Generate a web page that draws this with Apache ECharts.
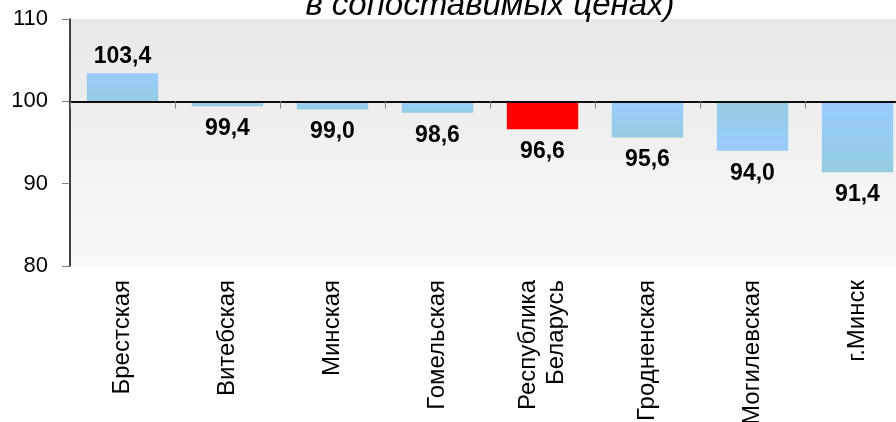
<!DOCTYPE html>
<html>
<head>
<meta charset="utf-8">
<script src="https://cdn.jsdelivr.net/npm/echarts@6/dist/echarts.min.js"></script>
<style>
  html, body { margin: 0; padding: 0; background: #fff; }
  #main { width: 896px; height: 422px; }
</style>
</head>
<body>
<div id="main"></div>
<script>
// регионы и индексы (в сопоставимых ценах)
var regions = ['Брестская', 'Витебская', 'Минская', 'Гомельская', 'Республика\nБеларусь', 'Гродненская', 'Могилевская', 'г.Минск'];
var values = [103.4, 99.4, 99.0, 98.6, 96.6, 95.6, 94.0, 91.4];
var baseLevel = 100;
var yTicks = [80, 90, 100, 110];

var FONT = '"Liberation Sans", Arial, sans-serif';

function grad(a, b) {
	return new echarts.graphic.LinearGradient(0, 0, 0, 1, [
		{ offset: 0, color: a },
		{ offset: 1, color: b }
	]);
}

var barData = values.map(function(v, i) {
	var item = { value: +(v - baseLevel).toFixed(1) };
	var color = grad('#99ccff', '#94cce0');
	if (regions[i] === 'Республика\nБеларусь') color = '#ff0000';
	else if (regions[i] === 'Могилевская') color = grad('#94cce0', '#99ccff');
	item.itemStyle = { color: color };
	item.label = { position: v >= baseLevel ? 'top' : 'bottom', distance: v >= baseLevel ? 5 : 11 };
	return item;
});

var option = {
	animation: false,
	title: {
		text: 'в сопоставимых ценах)',
		left: 485,
		textAlign: 'center',
		top: -16,
		textStyle: { fontFamily: FONT, fontSize: 33, fontStyle: 'italic', fontWeight: 'normal', color: '#000' }
	},
	grid: {
		left: 70, right: -14, top: 19, bottom: 156,
		outerBoundsMode: 'none',
		containLabel: false,
		show: true, borderWidth: 0,
		backgroundColor: grad('#e8e8e8', '#f9f9f9')
	},
	xAxis: [{
		type: 'category',
		data: regions,
		axisLine: { onZero: true, onZeroAxisIndex: 0, lineStyle: { color: '#000', width: 1.5 } },
		axisTick: { show: true, length: 7, lineStyle: { color: '#808080' } },
		axisLabel: { show: false },
		z: 10
	}, {
		type: 'category',
		data: regions,
		axisLine: { show: true, onZero: true, onZeroAxisIndex: 1, lineStyle: { color: '#000', width: 1.5 } },
		axisTick: { show: true, inside: true, length: 7, lineStyle: { color: '#808080' } },
		axisLabel: { show: false },
		z: 10
	}, {
		type: 'category',
		data: regions,
		position: 'bottom',
		axisLine: { show: false, onZero: false },
		axisTick: { show: false },
		axisLabel: {
			rotate: 90, margin: 14, interval: 0,
			fontFamily: FONT, fontSize: 24, color: '#000', lineHeight: 28
		}
	}],
	yAxis: [{
		type: 'value',
		min: yTicks[0] - baseLevel,
		max: yTicks[yTicks.length - 1] - baseLevel,
		interval: 10,
		splitLine: { show: false },
		axisLine: { show: true, lineStyle: { color: '#000', width: 1.5 } },
		axisTick: { show: true, length: 8, lineStyle: { color: '#808080' } },
		axisLabel: {
			margin: 22, fontFamily: FONT, fontSize: 22, color: '#000',
			formatter: function(v) { return String(v + baseLevel); }
		}
	}, {
		type: 'value',
		show: false,
		min: yTicks[0] - baseLevel,
		max: yTicks[yTicks.length - 1] - baseLevel,
		interval: 10,
		splitLine: { show: false }
	}],
	series: [{
		type: 'bar',
		xAxisIndex: 0,
		yAxisIndex: 0,
		barWidth: '68%',
		data: barData,
		label: {
			show: true,
			fontFamily: FONT, fontSize: 23, fontWeight: 'bold', color: '#000',
			formatter: function(p) { return values[p.dataIndex].toFixed(1).replace('.', ','); }
		}
	}]
};

var myChart = echarts.init(document.getElementById('main'));
myChart.setOption(option);
</script>
</body>
</html>
